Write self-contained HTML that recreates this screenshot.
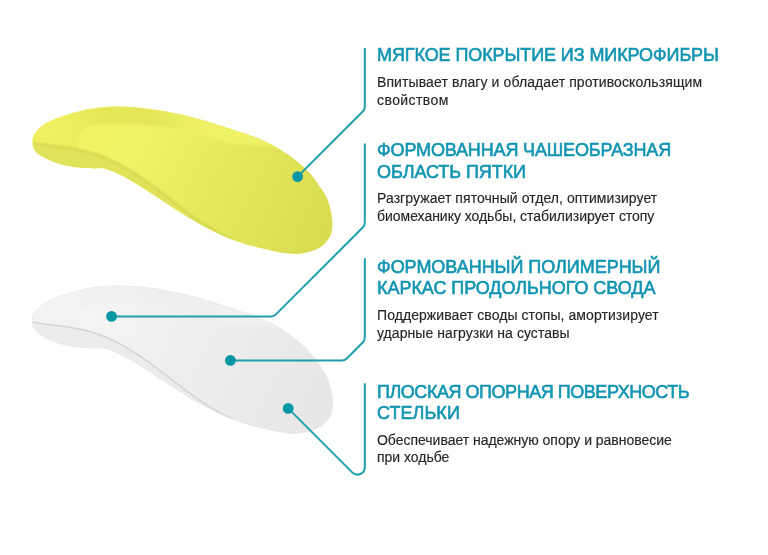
<!DOCTYPE html>
<html><head><meta charset="utf-8">
<style>
html,body{margin:0;padding:0;background:#fff;}
body{width:768px;height:555px;position:relative;overflow:hidden;font-family:"Liberation Sans",sans-serif;}
svg{position:absolute;left:0;top:0;}
.t{position:absolute;left:377px;color:#1395b2;font-weight:normal;font-size:18px;line-height:21.6px;white-space:nowrap;-webkit-text-stroke:0.6px #1395b2;letter-spacing:-0.1px;will-change:transform}
.b{position:absolute;left:377.2px;color:#262626;font-size:14px;line-height:17.6px;white-space:nowrap;-webkit-text-stroke:0.15px #262626;will-change:transform}
</style></head><body>
<svg width="768" height="555" viewBox="0 0 768 555">
<defs>
<path id="ins" d="M32.50,141.20 C32.48,139.80 32.38,138.82 32.80,137.50 C33.37,135.70 34.78,133.52 36.30,131.60 C38.08,129.34 40.44,126.94 43.10,125.00 C46.05,122.85 49.65,121.13 53.40,119.50 C57.58,117.68 62.42,116.26 67.10,114.80 C71.94,113.29 77.79,111.67 82.00,110.60 C85.07,109.82 86.90,109.32 90.00,108.80 C94.20,108.09 99.99,107.47 105.00,107.10 C109.99,106.73 115.00,106.57 120.00,106.60 C125.00,106.63 130.01,106.92 135.00,107.30 C140.01,107.68 145.01,108.25 150.00,108.90 C155.01,109.55 160.01,110.30 165.00,111.20 C170.01,112.10 175.01,113.19 180.00,114.30 C185.01,115.42 190.01,116.59 195.00,117.90 C200.01,119.22 205.01,120.67 210.00,122.20 C215.01,123.74 220.00,125.45 225.00,127.10 C230.00,128.75 234.91,130.39 240.00,132.10 C245.30,133.88 250.85,135.49 256.20,137.60 C261.65,139.75 267.09,142.07 272.40,144.90 C277.90,147.84 283.31,151.25 288.60,155.00 C294.12,158.91 300.43,163.92 304.80,168.00 C308.13,171.11 310.38,173.67 313.00,176.90 C315.80,180.36 318.56,184.36 321.00,188.20 C323.38,191.93 325.77,195.39 327.50,199.60 C329.40,204.24 330.80,210.26 331.60,215.00 C332.26,218.94 332.62,222.48 332.40,226.00 C332.19,229.30 331.77,232.58 330.50,235.50 C329.20,238.49 327.00,241.39 324.60,243.70 C322.18,246.03 319.38,247.86 316.00,249.40 C311.94,251.25 306.38,252.71 301.60,253.40 C297.04,254.06 292.83,254.01 288.00,253.60 C282.40,253.13 275.72,251.45 270.00,250.27 C264.76,249.19 259.80,248.12 255.00,246.87 C250.49,245.69 246.23,244.42 242.00,243.02 C237.90,241.67 233.98,240.22 230.00,238.64 C225.98,237.04 221.98,235.30 218.00,233.46 C213.97,231.59 209.98,229.59 206.00,227.50 C201.97,225.38 197.98,223.13 194.00,220.81 C189.98,218.47 185.98,216.00 182.00,213.51 C177.98,211.00 173.99,208.39 170.00,205.78 C165.99,203.16 162.00,200.47 158.00,197.83 C154.00,195.20 150.02,192.52 146.00,189.96 C142.02,187.42 138.03,184.86 134.00,182.50 C130.03,180.17 125.85,177.80 122.00,175.87 C118.55,174.14 115.18,172.60 112.00,171.34 C109.21,170.23 106.79,169.06 104.00,168.58 C101.13,168.09 98.25,168.57 95.00,168.50 C91.17,168.42 87.18,168.56 82.50,168.10 C76.43,167.51 67.58,166.22 61.70,164.70 C57.18,163.53 53.37,161.94 50.00,160.50 C47.33,159.36 45.21,158.28 43.00,157.00 C40.88,155.77 38.65,154.62 37.00,153.00 C35.41,151.44 33.95,149.50 33.20,147.50 C32.47,145.56 32.53,143.02 32.50,141.20 Z"/>
<path id="side" d="M32.80,142.55 C34.20,142.86 35.52,143.18 37.00,143.47 C38.64,143.79 40.15,144.07 42.20,144.39 C45.15,144.85 49.23,145.38 53.00,145.88 C57.13,146.43 61.59,146.86 66.00,147.52 C70.59,148.20 75.44,148.94 80.00,149.92 C84.43,150.87 88.70,151.93 93.00,153.26 C97.37,154.60 101.63,156.13 106.00,157.95 C110.63,159.88 115.31,162.12 120.00,164.62 C124.97,167.27 130.05,170.33 135.00,173.49 C140.06,176.72 145.04,180.25 150.00,183.82 C155.04,187.44 160.01,191.29 165.00,195.08 C170.01,198.89 174.98,202.83 180.00,206.63 C184.98,210.40 189.95,214.22 195.00,217.78 C199.96,221.27 205.17,224.83 210.00,227.80 C214.30,230.44 218.47,232.80 222.50,234.84 C226.11,236.67 229.50,238.01 233.00,239.60 L233.00,239.60 C232.00,239.28 231.32,239.13 230.00,238.64 C227.32,237.63 221.98,235.30 218.00,233.46 C213.97,231.59 209.98,229.59 206.00,227.50 C201.97,225.38 197.98,223.13 194.00,220.81 C189.98,218.47 185.98,216.00 182.00,213.51 C177.98,211.00 173.99,208.39 170.00,205.78 C165.99,203.16 162.00,200.47 158.00,197.83 C154.00,195.20 150.02,192.52 146.00,189.96 C142.02,187.42 138.03,184.86 134.00,182.50 C130.03,180.17 125.85,177.80 122.00,175.87 C118.55,174.14 115.18,172.60 112.00,171.34 C109.21,170.23 106.79,169.06 104.00,168.58 C101.13,168.09 98.25,168.57 95.00,168.50 C91.17,168.42 87.18,168.56 82.50,168.10 C76.43,167.51 67.58,166.22 61.70,164.70 C57.18,163.53 53.37,161.94 50.00,160.50 C47.33,159.36 45.21,158.28 43.00,157.00 C40.88,155.77 38.65,154.62 37.00,153.00 C35.41,151.44 33.87,149.38 33.20,147.50 C32.62,145.87 32.93,144.17 32.80,142.50 Z"/>
<path id="rim" d="M32.80,142.55 C34.20,142.86 35.52,143.18 37.00,143.47 C38.64,143.79 40.15,144.07 42.20,144.39 C45.15,144.85 49.23,145.38 53.00,145.88 C57.13,146.43 61.59,146.86 66.00,147.52 C70.59,148.20 75.44,148.94 80.00,149.92 C84.43,150.87 88.70,151.93 93.00,153.26 C97.37,154.60 101.63,156.13 106.00,157.95 C110.63,159.88 115.31,162.12 120.00,164.62 C124.97,167.27 130.05,170.33 135.00,173.49 C140.06,176.72 145.04,180.25 150.00,183.82 C155.04,187.44 160.01,191.29 165.00,195.08 C170.01,198.89 174.98,202.83 180.00,206.63 C184.98,210.40 189.95,214.22 195.00,217.78 C199.96,221.27 205.17,224.83 210.00,227.80 C214.30,230.44 218.47,232.80 222.50,234.84 C226.11,236.67 229.50,238.01 233.00,239.60"/>
<path id="band" d="M32.50,141.20  C32.60,139.97 32.38,138.82 32.80,137.50 C33.37,135.70 34.78,133.52 36.30,131.60 C38.08,129.34 40.44,126.94 43.10,125.00 C46.05,122.85 49.65,121.13 53.40,119.50 C57.58,117.68 62.42,116.26 67.10,114.80 C71.94,113.29 77.79,111.67 82.00,110.60 C85.07,109.82 86.90,109.32 90.00,108.80 C94.20,108.09 99.99,107.47 105.00,107.10 C109.99,106.73 115.00,106.57 120.00,106.60 C125.00,106.63 130.01,106.92 135.00,107.30 C140.01,107.68 145.01,108.25 150.00,108.90 C155.01,109.55 160.01,110.30 165.00,111.20 C170.01,112.10 175.01,113.19 180.00,114.30 C185.01,115.42 190.01,116.59 195.00,117.90 C200.01,119.22 205.01,120.67 210.00,122.20 C215.01,123.74 220.00,125.45 225.00,127.10 C230.00,128.75 234.91,130.39 240.00,132.10 C245.30,133.88 250.85,135.49 256.20,137.60 C261.65,139.75 267.00,142.47 272.40,144.90 L280,150  C277.00,148.87 274.49,147.42 271.00,146.60 C266.49,145.54 260.64,145.38 255.00,145.00 C248.71,144.58 241.50,145.08 235.00,144.30 C228.68,143.55 222.43,142.18 216.50,140.50 C210.78,138.88 206.59,136.44 200.00,134.50 C190.57,131.72 176.38,128.21 165.00,126.50 C154.41,124.91 144.50,124.54 134.00,124.20 C123.18,123.85 108.92,123.90 101.00,124.50 C96.51,124.84 93.71,124.87 90.50,126.00 C87.40,127.09 84.05,128.35 82.00,131.00 C79.51,134.22 78.82,140.69 78.00,145.00 C77.32,148.58 77.33,151.67 77.00,155.00 Z"/>
<clipPath id="clipI"><use href="#ins"/></clipPath>
<linearGradient id="yg" gradientUnits="userSpaceOnUse" x1="60" y1="120" x2="320" y2="240">
<stop offset="0" stop-color="#f2f463"/><stop offset="0.3" stop-color="#eff265"/><stop offset="1" stop-color="#d9db51"/>
</linearGradient>
<linearGradient id="ybg" gradientUnits="userSpaceOnUse" x1="40" y1="0" x2="290" y2="0">
<stop offset="0" stop-color="#f1f060"/><stop offset="0.14" stop-color="#ebed5d"/><stop offset="0.24" stop-color="#e5e759"/><stop offset="0.44" stop-color="#e4e659"/><stop offset="0.56" stop-color="#eaec5f"/><stop offset="0.68" stop-color="#eff166"/><stop offset="1" stop-color="#eff166"/>
</linearGradient>
<linearGradient id="wg" gradientUnits="userSpaceOnUse" x1="60" y1="120" x2="320" y2="240">
<stop offset="0" stop-color="#f6f6f6"/><stop offset="1" stop-color="#e6e6e6"/>
</linearGradient>
<linearGradient id="wbg" gradientUnits="userSpaceOnUse" x1="40" y1="0" x2="290" y2="0">
<stop offset="0" stop-color="#f3f3f3"/><stop offset="0.3" stop-color="#f1f1f1"/><stop offset="0.55" stop-color="#eeeeee"/><stop offset="1" stop-color="#f3f3f3"/>
</linearGradient>
<filter id="bl" x="-10%" y="-10%" width="120%" height="120%"><feGaussianBlur stdDeviation="0.8"/></filter>
<filter id="bw" x="-10%" y="-10%" width="120%" height="120%"><feGaussianBlur stdDeviation="0.5"/></filter>
<filter id="bb" x="-10%" y="-20%" width="120%" height="140%"><feGaussianBlur stdDeviation="1.1"/></filter>
</defs>
<g>
<use href="#ins" fill="url(#yg)"/>
<g clip-path="url(#clipI)"><use href="#band" fill="url(#ybg)" filter="url(#bb)"/></g>
<use href="#side" fill="#e0e25a" clip-path="url(#clipI)"/>
<use href="#rim" fill="none" stroke="#cdd04a" stroke-width="1.6" filter="url(#bl)" clip-path="url(#clipI)"/>
</g>
<g transform="translate(0,179.3)">
<use href="#ins" fill="url(#wg)" stroke="#e3e3e3" stroke-width="0.8"/>
<g clip-path="url(#clipI)"><use href="#band" fill="url(#wbg)" filter="url(#bb)"/></g>
<use href="#side" fill="#ececec" clip-path="url(#clipI)"/>
<use href="#rim" fill="none" stroke="#d4d4d4" stroke-width="1.5" filter="url(#bw)" clip-path="url(#clipI)"/>
</g>
<g fill="none" stroke="#1f9eab" stroke-width="2">
<path d="M297.6,176.6 L362.75,111.45 A7,7 0 0 0 364.80,106.50 L364.8,47.9"/>
<path d="M111.6,316.4 L271.00,316.4 A7,7 0 0 0 275.95,314.35 L362.75,227.55 A7,7 0 0 0 364.8,222.60 L364.8,143.4"/>
<path d="M230.4,360.5 L341.90,360.5 A7,7 0 0 0 346.85,358.45 L362.75,342.55 A7,7 0 0 0 364.8,337.60 L364.8,258.3"/>
<path d="M288.2,408.4 L352.17,472.37 A7.4,7.4 0 0 0 364.80,467.13 L364.8,383.3"/>
</g>
<g fill="#0798a6">
<circle cx="297.6" cy="176.6" r="5.4"/>
<circle cx="111.6" cy="316.4" r="5.4"/>
<circle cx="230.4" cy="360.4" r="5.4"/>
<circle cx="288.2" cy="408.4" r="5.4"/>
</g>
</svg>
<div class="t" style="top:45.3px;letter-spacing:-0.092px">МЯГКОЕ ПОКРЫТИЕ ИЗ МИКРОФИБРЫ</div>
<div class="b" style="top:74.0px;letter-spacing:0.102px">Впитывает влагу и обладает противоскользящим</div>
<div class="b" style="top:91.6px;letter-spacing:0.425px">свойством</div>
<div class="t" style="top:140.2px;letter-spacing:-0.152px">ФОРМОВАННАЯ ЧАШЕОБРАЗНАЯ</div>
<div class="t" style="top:162.1px;letter-spacing:-0.067px">ОБЛАСТЬ ПЯТКИ</div>
<div class="b" style="top:190.0px;letter-spacing:0.068px">Разгружает пяточный отдел, оптимизирует</div>
<div class="b" style="top:207.6px;letter-spacing:-0.031px">биомеханику ходьбы, стабилизирует стопу</div>
<div class="t" style="top:256.7px;letter-spacing:-0.033px">ФОРМОВАННЫЙ ПОЛИМЕРНЫЙ</div>
<div class="t" style="top:278.3px;letter-spacing:-0.039px">КАРКАС ПРОДОЛЬНОГО СВОДА</div>
<div class="b" style="top:307.0px;letter-spacing:0.070px">Поддерживает своды стопы, амортизирует</div>
<div class="b" style="top:324.6px;letter-spacing:0.062px">ударные нагрузки на суставы</div>
<div class="t" style="top:381.6px;letter-spacing:-0.462px">ПЛОСКАЯ ОПОРНАЯ ПОВЕРХНОСТЬ</div>
<div class="t" style="top:403.2px;letter-spacing:0.066px">СТЕЛЬКИ</div>
<div class="b" style="top:431.5px;letter-spacing:-0.021px">Обеспечивает надежную опору и равновесие</div>
<div class="b" style="top:449.1px;letter-spacing:-0.022px">при ходьбе</div>
</body></html>
